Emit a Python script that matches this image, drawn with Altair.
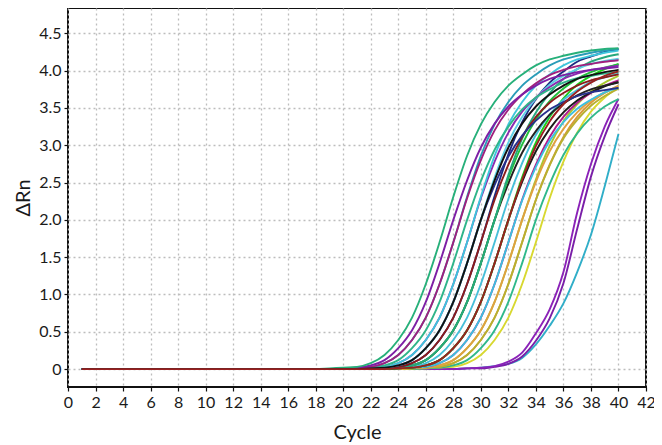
import altair as alt
import pandas as pd

# x positions (PCR cycles) and axis ticks
cycles = list(range(1, 41))
x_ticks = list(range(0, 43, 2))
y_ticks = [0, 0.5, 1.0, 1.5, 2.0, 2.5, 3.0, 3.5, 4.0, 4.5]

# flat baseline read for cycles 1-17 (all curves)
baseline = [0.0] * 17

curve_ids = ["L3", "L2", "L1", "AA", "Z", "Y", "X", "W", "V", "U", "T", "S", "R",
             "O", "N", "M", "L", "K", "J", "P", "H", "G", "F", "E", "D", "C", "B",
             "A", "I", "Q"]
curve_colors = ["#30aec8", "#7a1fa8", "#8b22b8", "#d8d830", "#2fb88a", "#d89a3a",
                "#b8b030", "#a8c830", "#e0a040", "#b01c8c", "#3cc0e0", "#1a1a1a",
                "#19d019", "#47bfd8", "#222222", "#1fbf3a", "#26a87c", "#1c2a80",
                "#8b1c1c", "#27308c", "#5fd0e6", "#8a2bb0", "#3ec6dc", "#2fb58a",
                "#2a9cb8", "#a0207d", "#7d1fa5", "#27b07a", "#111111", "#9a2020"]

# delta Rn values for cycles 18..40
A = [0, 0.01, 0.02, 0.03, 0.08, 0.19, 0.39, 0.69, 1.14, 1.70, 2.31, 2.86, 3.28, 3.58, 3.80, 3.95, 4.07, 4.15, 4.20, 4.24, 4.27, 4.29, 4.30]
B = [0, 0, 0.01, 0.02, 0.05, 0.12, 0.28, 0.52, 0.90, 1.42, 2.00, 2.53, 2.97, 3.29, 3.52, 3.68, 3.80, 3.89, 3.94, 3.98, 4.01, 4.03, 4.05]
C = [0, 0, 0.01, 0.02, 0.03, 0.08, 0.19, 0.39, 0.69, 1.14, 1.70, 2.29, 2.80, 3.20, 3.48, 3.68, 3.83, 3.94, 4.01, 4.06, 4.09, 4.12, 4.14]
D = [0, 0, 0.01, 0.02, 0.03, 0.08, 0.19, 0.39, 0.69, 1.14, 1.70, 2.31, 2.86, 3.28, 3.58, 3.80, 3.95, 4.07, 4.15, 4.20, 4.24, 4.27, 4.29]
E = [0, 0, 0, 0.01, 0.02, 0.05, 0.12, 0.28, 0.52, 0.90, 1.42, 2.00, 2.52, 2.94, 3.25, 3.48, 3.64, 3.75, 3.84, 3.90, 3.93, 3.96, 3.98]
F = [0, 0, 0, 0.01, 0.02, 0.03, 0.08, 0.19, 0.39, 0.69, 1.14, 1.70, 2.31, 2.86, 3.28, 3.58, 3.80, 3.95, 4.07, 4.15, 4.20, 4.24, 4.27]
G = [0, 0, 0, 0.01, 0.02, 0.03, 0.08, 0.19, 0.39, 0.69, 1.14, 1.70, 2.29, 2.78, 3.17, 3.45, 3.64, 3.78, 3.89, 3.96, 4.01, 4.04, 4.07]
H = [0, 0, 0, 0, 0.01, 0.02, 0.05, 0.12, 0.28, 0.52, 0.90, 1.42, 2.00, 2.57, 3.04, 3.38, 3.63, 3.81, 3.93, 4.02, 4.09, 4.13, 4.16]
I = [0, 0, 0, 0, 0.01, 0.02, 0.05, 0.12, 0.28, 0.52, 0.90, 1.42, 2.00, 2.53, 2.97, 3.29, 3.52, 3.68, 3.80, 3.89, 3.94, 3.98, 4.01]
P = [0, 0, 0, 0, 0.01, 0.02, 0.05, 0.12, 0.28, 0.52, 0.90, 1.42, 2.00, 2.47, 2.85, 3.13, 3.33, 3.48, 3.58, 3.66, 3.71, 3.74, 3.77]
J = [0, 0, 0, 0, 0.01, 0.02, 0.03, 0.08, 0.19, 0.39, 0.69, 1.14, 1.70, 2.27, 2.74, 3.11, 3.38, 3.57, 3.70, 3.80, 3.87, 3.91, 3.95]
K = [0, 0, 0, 0, 0.01, 0.02, 0.03, 0.08, 0.19, 0.39, 0.69, 1.14, 1.70, 2.32, 2.88, 3.31, 3.62, 3.84, 3.99, 4.12, 4.19, 4.25, 4.29]
L = [0, 0, 0, 0, 0, 0.01, 0.02, 0.05, 0.12, 0.28, 0.52, 0.90, 1.42, 2.00, 2.60, 3.09, 3.44, 3.70, 3.89, 4.02, 4.12, 4.18, 4.22]
M = [0, 0, 0, 0, 0, 0.01, 0.02, 0.05, 0.12, 0.28, 0.52, 0.90, 1.42, 2.00, 2.56, 3.01, 3.35, 3.59, 3.76, 3.89, 3.98, 4.04, 4.08]
N = [0, 0, 0, 0, 0, 0.01, 0.02, 0.05, 0.12, 0.28, 0.52, 0.90, 1.42, 2.00, 2.49, 2.90, 3.19, 3.41, 3.56, 3.67, 3.75, 3.80, 3.84]
O = [0, 0, 0, 0, 0, 0.01, 0.02, 0.03, 0.08, 0.19, 0.39, 0.69, 1.14, 1.70, 2.28, 2.76, 3.14, 3.41, 3.61, 3.74, 3.85, 3.91, 3.96]
Q = [0, 0, 0, 0, 0, 0, 0.01, 0.02, 0.05, 0.12, 0.28, 0.52, 0.90, 1.42, 2.00, 2.54, 2.99, 3.32, 3.55, 3.72, 3.84, 3.93, 3.99]
R = [0, 0, 0, 0, 0, 0, 0.01, 0.02, 0.05, 0.12, 0.28, 0.52, 0.90, 1.42, 2.00, 2.57, 3.04, 3.38, 3.63, 3.81, 3.93, 4.02, 4.09]
S = [0, 0, 0, 0, 0, 0, 0.01, 0.02, 0.05, 0.12, 0.28, 0.52, 0.90, 1.42, 2.00, 2.51, 2.92, 3.22, 3.44, 3.60, 3.71, 3.79, 3.85]
T = [0, 0, 0, 0, 0, 0, 0.01, 0.02, 0.03, 0.08, 0.19, 0.39, 0.69, 1.14, 1.70, 2.26, 2.71, 3.06, 3.31, 3.49, 3.61, 3.71, 3.77]
U = [0, 0, 0, 0, 0, 0, 0.01, 0.02, 0.03, 0.08, 0.19, 0.39, 0.69, 1.14, 1.70, 2.27, 2.74, 3.11, 3.38, 3.57, 3.70, 3.80, 3.87]
V = [0, 0, 0, 0, 0, 0, 0, 0.01, 0.02, 0.05, 0.12, 0.28, 0.52, 0.90, 1.42, 2.00, 2.51, 2.92, 3.22, 3.44, 3.60, 3.71, 3.79]
W = [0, 0, 0, 0, 0, 0, 0, 0.01, 0.02, 0.05, 0.12, 0.28, 0.52, 0.90, 1.42, 2.00, 2.54, 2.99, 3.32, 3.55, 3.72, 3.84, 3.93]
X = [0, 0, 0, 0, 0, 0, 0, 0.01, 0.02, 0.03, 0.08, 0.19, 0.39, 0.69, 1.14, 1.70, 2.27, 2.73, 3.09, 3.34, 3.53, 3.66, 3.76]
Y = [0, 0, 0, 0, 0, 0, 0, 0.01, 0.02, 0.03, 0.08, 0.19, 0.39, 0.69, 1.14, 1.70, 2.27, 2.74, 3.11, 3.38, 3.57, 3.70, 3.80]
Z = [0, 0, 0, 0, 0, 0, 0, 0, 0.01, 0.02, 0.05, 0.12, 0.28, 0.52, 0.90, 1.42, 2.00, 2.48, 2.87, 3.16, 3.37, 3.52, 3.62]
AA = [0, 0, 0, 0, 0, 0, 0, 0, 0.01, 0.02, 0.03, 0.08, 0.19, 0.39, 0.69, 1.14, 1.70, 2.29, 2.78, 3.17, 3.45, 3.64, 3.78]
L1 = [0, 0, 0, 0, 0, 0, 0, 0, 0, 0, 0, 0.01, 0.02, 0.04, 0.10, 0.22, 0.48, 0.80, 1.30, 2.10, 2.75, 3.25, 3.62]
L2 = [0, 0, 0, 0, 0, 0, 0, 0, 0, 0, 0, 0.01, 0.01, 0.03, 0.07, 0.17, 0.38, 0.68, 1.15, 1.88, 2.58, 3.12, 3.55]
L3 = [0, 0, 0, 0, 0, 0, 0, 0, 0, 0, 0, 0.01, 0.02, 0.04, 0.07, 0.15, 0.33, 0.58, 0.88, 1.30, 1.80, 2.45, 3.15]

curve_values = {"A": A, "B": B, "C": C, "D": D, "E": E, "F": F, "G": G, "H": H,
                "I": I, "P": P, "J": J, "K": K, "L": L, "M": M, "N": N, "O": O,
                "Q": Q, "R": R, "S": S, "T": T, "U": U, "V": V, "W": W, "X": X,
                "Y": Y, "Z": Z, "AA": AA, "L1": L1, "L2": L2, "L3": L3}

rows = []
for cid in curve_ids:
    vals = baseline + curve_values[cid]
    for c, v in zip(cycles, vals):
        rows.append({"curve": cid, "cycle": c, "drn": v})
df = pd.DataFrame(rows)

FONT = "Lato"

chart = alt.Chart(df).mark_line(strokeWidth=1.9, interpolate="monotone").encode(
    x=alt.X("cycle:Q",
            scale=alt.Scale(domain=[0, 42], nice=False, zero=False),
            axis=alt.Axis(values=x_ticks, title="Cycle", format="d",
                          labelOverlap=False, labelBound=False, labelFlush=False,
                          labelPadding=3, titlePadding=12)),
    y=alt.Y("drn:Q",
            scale=alt.Scale(domain=[-0.24, 4.84], nice=False, zero=False),
            axis=alt.Axis(values=y_ticks, title="ΔRn",
                          labelExpr="datum.value == 0 ? '0' : format(datum.value, '.1f')",
                          labelOverlap=False,
                          labelPadding=3, titlePadding=5)),
    color=alt.Color("curve:N", sort=curve_ids,
                    scale=alt.Scale(domain=curve_ids, range=curve_colors), legend=None),
).properties(
    width=578, height=379,
    background="white",
    autosize=alt.AutoSizeParams(type="none"),
    padding={"left": 60, "top": 0, "right": 8, "bottom": 56},
).configure_view(
    stroke="#111111", strokeWidth=2
).configure_axis(
    grid=True, gridColor="#bdbdbd", gridDash=[2, 3], gridWidth=1.3,
    domain=False, ticks=True, tickColor="#111111", tickSize=4, tickWidth=1.2,
    labelFont=FONT, labelFontSize=16, labelColor="#1a1a1a",
    titleFont=FONT, titleFontSize=20, titleFontWeight="normal", titleColor="#1a1a1a",
)

chart.save("out.html", embed_options={"renderer": "svg", "actions": False})
